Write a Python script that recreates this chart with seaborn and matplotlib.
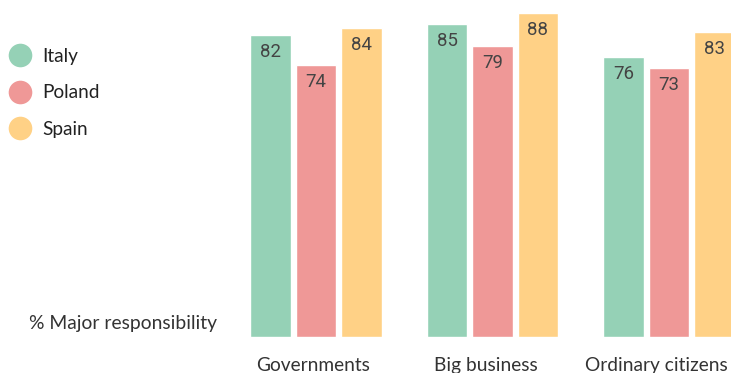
import matplotlib
matplotlib.use("Agg")
import matplotlib.pyplot as plt
from matplotlib.lines import Line2D
from matplotlib.transforms import ScaledTranslation
import seaborn as sns
import pandas as pd

categories = ["Governments", "Big business", "Ordinary citizens"]
countries = ["Italy", "Poland", "Spain"]
italy = [82, 85, 76]
poland = [74, 79, 73]
spain = [84, 88, 83]
colors = ["#95d1b6", "#ef9897", "#ffd186"]
ylabel_text = "% Major responsibility"

rows = []
for country, vals in zip(countries, [italy, poland, spain]):
    for cat, v in zip(categories, vals):
        rows.append({"category": cat, "country": country, "value": v})
df = pd.DataFrame(rows)

sns.set_theme(style="white")
plt.rcParams["font.family"] = ["Lato", "DejaVu Sans"]

W, H = 731, 373
fig = plt.figure(figsize=(W / 100, H / 100), dpi=100)
# axes: left px 240 .. right px 731, bottom baseline at y=337
ax = fig.add_axes([240 / W, 36 / H, (W - 240) / W, 337 / H])

sns.barplot(data=df, x="category", y="value", hue="country", order=categories,
            hue_order=countries, palette=colors, width=0.773, gap=0.1,
            saturation=1, legend=False, ax=ax)

px_per_unit = 176.5
ax.set_xlim(-(316 - 240) / px_per_unit, (731 - 316) / px_per_unit)
ax.set_ylim(0, 337 / 3.68)

for cont in ax.containers:
    for bar in cont:
        h = bar.get_height()
        ax.annotate(f"{h:.0f}", (bar.get_x() + bar.get_width() / 2, h),
                    xytext=(0, -15.8), textcoords="offset points",
                    ha="center", va="baseline", fontsize=13.4,
                    family=["Roboto", "DejaVu Sans"], color="#444444")

for s in ax.spines.values():
    s.set_visible(False)
ax.set_yticks([])
ax.set_xlabel("")
ax.set_ylabel("")
ax.tick_params(axis="x", length=0, pad=14.3, labelsize=13.8, labelcolor="#333333")

label_shift_px = [-3, -6.5, -13]
for lab, dx in zip(ax.get_xticklabels(), label_shift_px):
    lab.set_transform(lab.get_transform() + ScaledTranslation(dx / 100, 0, fig.dpi_scale_trans))

fig.text(217 / W, 1 - 323 / H, ylabel_text, ha="right", va="center",
         fontsize=13.9, color="#333333")

handles = [Line2D([], [], linestyle="none", marker="o", markersize=17,
                  markerfacecolor=c, markeredgewidth=0) for c in colors]
fig.legend(handles, countries, loc="upper left",
           bbox_to_anchor=(9.2 / W, 1 - 48 / H), frameon=False,
           borderpad=0, borderaxespad=0, handlelength=1.15,
           handletextpad=0.58, labelspacing=1.02, fontsize=13.7,
           labelcolor="#222222")

fig.savefig("out.png", dpi=100, facecolor="white")
